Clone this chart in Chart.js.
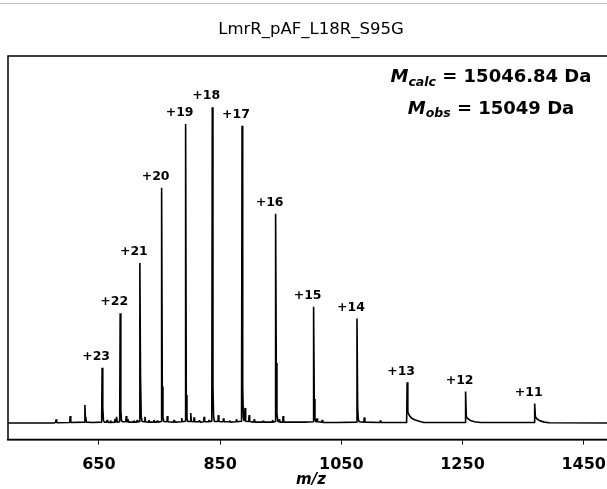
<!DOCTYPE html>
<html>
<head>
<meta charset="utf-8">
<script src="https://cdn.jsdelivr.net/npm/chart.js@4.4.0/dist/chart.umd.min.js"></script>
<style>
html, body { margin: 0; padding: 0; background: #fff; overflow: hidden; }
#wrap { position: relative; width: 607px; height: 489px; overflow: hidden; }
#wrap canvas { position: absolute; left: 0; top: 0; }
#topline { position: absolute; left: 0; top: 3px; width: 607px; border-top: 1px solid #c4c4c4; }
</style>
</head>
<body>
<div id="wrap">
  <canvas id="chart" width="622" height="489"></canvas>
  <div id="topline"></div>
</div>
<script>
// ── Data ──────────────────────────────────────────────────────────────────────
var titleText = 'LmrR_pAF_L18R_S95G';
var massCalc  = '15046.84';
var massObs   = '15049';

// charge-state peaks (m/z, relative intensity)
var chargeLabels = ['+23', '+22', '+21', '+20', '+19', '+18', '+17', '+16', '+15', '+14', '+13', '+12', '+11'];
var peakMz  = [655.3, 685.1, 717.6, 753.5, 793.1, 837.1, 886.2, 941.6, 1004.3, 1075.9, 1158.6, 1255.1, 1369.1];
var peakInt = [0.175, 0.348, 0.507, 0.745, 0.947, 1.000, 0.941, 0.663, 0.368, 0.331, 0.129, 0.100, 0.062];

// baseline, shoulders, tails and small noise spikes
var sideMz = [
  500, 575, 578.6, 579.4, 580.4, 601.8, 602.6, 603.6,
  626.0, 626.9, 627.8, 628.3, 629.4, 640, 654.5,
  656.4, 657.5, 659.0, 662.9, 663.7, 664.6, 668.5, 669.3, 670.2,
  675.6, 676.4, 677.3, 678.4, 679.2, 680.2, 684.3,
  686.2, 687.3, 688.8, 694.3, 695.1, 696.0, 697.2, 698.0, 699.0,
  707.1, 707.9, 708.8, 712.5, 713.3, 714.2, 716.8,
  718.7, 719.8, 721.2, 725.2, 726.0, 726.9, 731.8, 732.6, 733.5,
  740.1, 740.9, 741.8, 745.6, 746.4, 747.3, 752.7,
  754.6, 755.7, 757.0, 762.1, 762.9, 763.8, 773.2, 774.0, 774.9,
  785.9, 786.7, 787.6, 792.3,
  794.2, 795.3, 796.6, 800.8, 801.6, 802.5, 806.2, 807.0, 807.9,
  815, 816, 817, 822.8, 823.6, 824.5, 831.0, 831.8, 832.7, 836.3,
  838.2, 839.3, 840.6, 846.4, 847.2, 848.1, 854.7, 855.5, 856.4,
  865, 866, 867, 876.2, 877.0, 877.9, 885.4,
  887.3, 888.4, 889.6, 890.5, 891.3, 892.2, 897.1, 897.9, 898.8,
  905.4, 906.2, 907.1, 920, 921, 922, 935.7, 936.5, 937.4, 940.8,
  942.7, 943.8, 945.1, 946.7, 947.5, 948.4, 953.2, 954.0, 954.9,
  975, 990, 1003.5,
  1005.4, 1006.5, 1007.8, 1009.2, 1010.0, 1010.9, 1017.8, 1018.6, 1019.5,
  1045, 1075.1,
  1077.0, 1078.1, 1079.5, 1087.2, 1088.0, 1088.9, 1113.7, 1114.5, 1115.4, 1157.8,
  1159.8, 1162, 1166, 1172, 1180, 1186, 1254.3,
  1256.3, 1259, 1263, 1270, 1280, 1368.3,
  1370.3, 1373, 1378, 1385, 1393, 1500
];
var sideInt = [
  0, 0, 0.002, 0.012, 0.001, 0.002, 0.022, 0.002,
  0.003, 0.057, 0.012, 0.020, 0.003, 0.002, 0.003,
  0.050, 0.008, 0.003, 0.003, 0.010, 0.003, 0.002, 0.008, 0.002,
  0.003, 0.013, 0.003, 0.004, 0.020, 0.003, 0.004,
  0.040, 0.008, 0.004, 0.004, 0.022, 0.004, 0.004, 0.012, 0.003,
  0.003, 0.008, 0.003, 0.003, 0.010, 0.003, 0.005,
  0.146, 0.022, 0.005, 0.004, 0.020, 0.004, 0.003, 0.010, 0.003,
  0.003, 0.010, 0.003, 0.003, 0.008, 0.003, 0.005,
  0.116, 0.018, 0.005, 0.004, 0.022, 0.004, 0.003, 0.010, 0.003,
  0.004, 0.016, 0.004, 0.006,
  0.089, 0.015, 0.005, 0.005, 0.032, 0.005, 0.004, 0.018, 0.004,
  0.004, 0.009, 0.003, 0.004, 0.020, 0.004, 0.004, 0.010, 0.004, 0.006,
  0.115, 0.020, 0.005, 0.005, 0.025, 0.005, 0.004, 0.015, 0.004,
  0.004, 0.008, 0.003, 0.004, 0.012, 0.004, 0.006,
  0.113, 0.020, 0.006, 0.006, 0.048, 0.006, 0.005, 0.025, 0.005,
  0.003, 0.012, 0.003, 0.003, 0.007, 0.003, 0.003, 0.010, 0.003, 0.005,
  0.190, 0.030, 0.006, 0.004, 0.012, 0.003, 0.003, 0.022, 0.003,
  0.003, 0.003, 0.004,
  0.076, 0.015, 0.004, 0.004, 0.015, 0.004, 0.003, 0.010, 0.002,
  0.002, 0.003,
  0.048, 0.012, 0.004, 0.003, 0.018, 0.003, 0.002, 0.008, 0.002, 0.002,
  0.035, 0.025, 0.015, 0.010, 0.005, 0.002, 0.002,
  0.020, 0.014, 0.008, 0.004, 0.002, 0.002,
  0.020, 0.013, 0.007, 0.003, 0.001, 0
];

var xTicks = [650, 850, 1050, 1250, 1450];

// ── Build the spectrum trace ──────────────────────────────────────────────────
var spectrum = [];
for (var i = 0; i < peakMz.length; i++) spectrum.push({ x: peakMz[i], y: peakInt[i] });
for (var j = 0; j < sideMz.length; j++) spectrum.push({ x: sideMz[j], y: sideInt[j] });
spectrum.sort(function (a, b) { return a.x - b.x; });

// ── Plugins: axes frame, peak labels, mass annotation ─────────────────────────
var framePlugin = {
  id: 'frame',
  afterDraw: function (chart) {
    var a = chart.chartArea, ctx = chart.ctx;
    ctx.save();
    ctx.strokeStyle = '#000';
    ctx.lineWidth = 1.5;
    ctx.strokeRect(a.left, a.top, a.right - a.left, a.bottom - a.top);
    ctx.restore();
  }
};

var labelPlugin = {
  id: 'peakLabels',
  afterDatasetsDraw: function (chart) {
    var ctx = chart.ctx, xs = chart.scales.x, ys = chart.scales.y;
    ctx.save();
    ctx.fillStyle = '#000';
    ctx.font = 'bold 12.5px "DejaVu Sans"';
    ctx.textAlign = 'center';
    ctx.textBaseline = 'middle';
    for (var i = 0; i < chargeLabels.length; i++) {
      ctx.fillText(chargeLabels[i], xs.getPixelForValue(peakMz[i]) - 6, ys.getPixelForValue(peakInt[i]) - 11);
    }
    ctx.restore();
  }
};

function drawMassLine(ctx, cx, cy, sub, value) {
  var big   = 'bold italic 18px "DejaVu Sans"';
  var small = 'bold italic 12.5px "DejaVu Sans"';
  var plain = 'bold 18px "DejaVu Sans"';
  var rest = ' = ' + value + ' Da';
  ctx.font = big;   var wM = ctx.measureText('M').width;
  ctx.font = small; var wS = ctx.measureText(sub).width;
  ctx.font = plain; var wR = ctx.measureText(rest).width;
  var x = cx - (wM + wS + wR) / 2;
  ctx.textAlign = 'left';
  ctx.textBaseline = 'alphabetic';
  ctx.font = big;   ctx.fillText('M', x, cy + 6.5);
  ctx.font = small; ctx.fillText(sub, x + wM, cy + 10);
  ctx.font = plain; ctx.fillText(rest, x + wM + wS, cy + 6.5);
}

var annotationPlugin = {
  id: 'massNote',
  afterDraw: function (chart) {
    var a = chart.chartArea, ctx = chart.ctx;
    var cx = a.left + 0.797 * (a.right - a.left);
    ctx.save();
    ctx.fillStyle = '#000';
    drawMassLine(ctx, cx, a.top + 0.051 * (a.bottom - a.top), 'calc', massCalc);
    drawMassLine(ctx, cx, a.top + 0.134 * (a.bottom - a.top), 'obs', massObs);
    ctx.restore();
  }
};

// ── Chart ─────────────────────────────────────────────────────────────────────
var ctx = document.getElementById('chart').getContext('2d');
new Chart(ctx, {
  type: 'line',
  data: {
    datasets: [{
      data: spectrum,
      borderColor: '#000',
      borderWidth: 1.6,
      borderJoinStyle: 'bevel',
      pointRadius: 0,
      tension: 0,
      fill: false
    }]
  },
  options: {
    responsive: false,
    animation: false,
    events: [],
    layout: { padding: { left: 8, right: 8, top: 0, bottom: 0 } },
    plugins: {
      legend: { display: false },
      tooltip: { enabled: false },
      title: {
        display: true,
        text: titleText,
        color: '#000',
        font: { family: 'DejaVu Sans', size: 16.5, weight: 'normal' },
        padding: { top: 20, bottom: 16.2 }
      }
    },
    scales: {
      x: {
        type: 'linear',
        min: 500,
        max: 1500,
        afterBuildTicks: function (s) { s.ticks = xTicks.map(function (v) { return { value: v }; }); },
        afterFit: function (s) { s.height = 49.5; },
        grid: { drawOnChartArea: false, drawTicks: true, tickLength: 5, color: '#000', lineWidth: 1 },
        border: { display: true, color: '#000', width: 1.5 },
        ticks: {
          color: '#000',
          font: { family: 'DejaVu Sans', size: 16, weight: 'bold' },
          padding: 11,
          maxRotation: 0,
          autoSkip: false,
          callback: function (v) { return String(v); }
        },
        title: {
          display: true,
          text: 'm/z',
          color: '#000',
          font: { family: 'DejaVu Sans', size: 15, style: 'italic', weight: 'bold' },
          padding: { top: 0, bottom: 0 }
        }
      },
      y: { display: false, min: -0.052, max: 1.162 }
    }
  },
  plugins: [framePlugin, labelPlugin, annotationPlugin]
});
</script>
</body>
</html>
